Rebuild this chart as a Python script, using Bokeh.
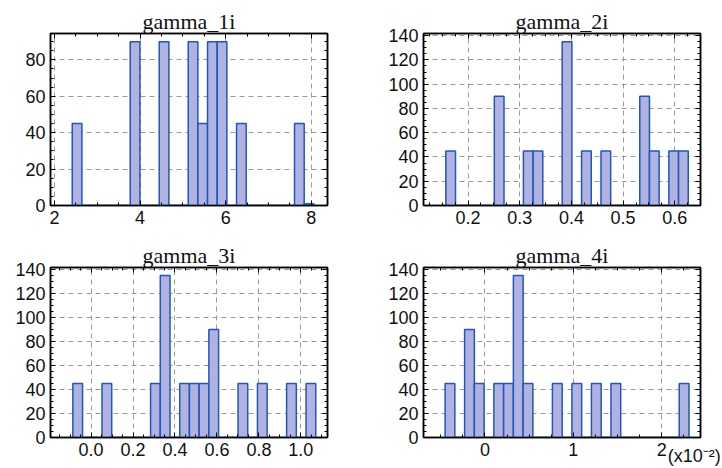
import numpy as np
from bokeh.plotting import figure
from bokeh.layouts import gridplot
from bokeh.models import (Range1d, LinearAxis, SingleIntervalTicker, FixedTicker,
                          PrintfTickFormatter, CustomJSTickFormatter)
from bokeh.embed import file_html
from bokeh.resources import INLINE

# ---- data (histograms, 25 bins each) ----
titles = ["gamma_1i", "gamma_2i", "gamma_3i", "gamma_4i"]

g1_range = (2.414, 8.061)
g1_counts = [45, 0, 0, 0, 0, 0, 90, 0, 0, 90, 0, 0, 90, 45, 90, 90, 0, 45, 0, 0, 0, 0, 0, 45, 1]

g2_range = (0.157, 0.626)
g2_counts = [45, 0, 0, 0, 0, 90, 0, 0, 45, 45, 0, 0, 135, 0, 45, 0, 45, 0, 0, 0, 90, 45, 0, 45, 45]

g3_range = (-0.087, 1.071)
g3_counts = [45, 0, 0, 45, 0, 0, 0, 0, 45, 135, 0, 45, 45, 45, 90, 0, 0, 45, 0, 45, 0, 0, 45, 0, 45]

g4_range = (-0.0045, 0.02307)
g4_counts = [45, 0, 90, 45, 0, 45, 45, 135, 45, 0, 0, 45, 0, 45, 0, 45, 0, 45, 0, 0, 0, 0, 0, 0, 45]
g4_scale = 1e-2
g4_note = "(x10\u207b\u00b2)"

# axis settings
x_ranges = [(1.906, 8.38), (0.1138, 0.6497), (-0.1935, 1.127), (-0.694, 2.437)]
x_intervals = [2, 0.1, 0.2, 1]
x_formats = [None, "%.1f", "%.1f", None]
y_max = [94.5, 141.75, 141.75, 141.75]

FILL = "#b0b3df"
LINE = "#1f56c3"
TICK_FONT = "Liberation Sans"
TITLE_FONT = "Liberation Serif"


def make_panel(title, rng, counts, scale, xr, xint, xfmt, ymax, col):
    lo, hi = rng
    edges = np.linspace(lo / scale, hi / scale, len(counts) + 1)
    left_b = 50 if col == 0 else 62
    right_b = 34 if col == 0 else 22
    p = figure(width=361, height=234, output_backend="svg", toolbar_location=None,
               x_range=Range1d(*xr), y_range=Range1d(0, ymax),
               min_border_left=left_b, min_border_right=right_b,
               min_border_top=33, min_border_bottom=30,
               x_axis_location=None, y_axis_location=None)
    p.title.text = title
    p.title.text_font = TITLE_FONT
    p.title.text_font_size = "22px"
    p.title.text_font_style = "normal"
    p.title.align = "center"
    p.title.standoff = 0
    p.title.text_color = "#111111"
    p.outline_line_color = "black"
    p.outline_line_width = 1.5
    p.background_fill_color = "white"
    p.border_fill_color = "white"

    xt = SingleIntervalTicker(interval=xint, num_minor_ticks=4)
    yt = SingleIntervalTicker(interval=20, num_minor_ticks=4)

    def style(ax, labels):
        ax.major_tick_in = 5
        ax.major_tick_out = 0
        ax.minor_tick_in = 3
        ax.minor_tick_out = 0
        ax.axis_line_color = "black"
        ax.axis_line_width = 1.5
        ax.major_tick_line_color = "black"
        ax.minor_tick_line_color = "black"
        if labels:
            ax.major_label_text_font = TICK_FONT
            ax.major_label_text_font_size = "18px"
            ax.major_label_text_color = "#111111"
            ax.major_label_standoff = 5
        else:
            ax.formatter = CustomJSTickFormatter(code="return ''")
            ax.major_label_standoff = 0

    xb = LinearAxis(ticker=xt); style(xb, True)
    if xfmt:
        xb.formatter = PrintfTickFormatter(format=xfmt)
    p.add_layout(xb, "below")
    xa = LinearAxis(ticker=xt); style(xa, False); p.add_layout(xa, "above")
    yl = LinearAxis(ticker=yt); style(yl, True); p.add_layout(yl, "left")
    yr = LinearAxis(ticker=yt); style(yr, False); p.add_layout(yr, "right")

    p.xgrid.ticker = xt
    p.ygrid.ticker = yt
    for g in (p.xgrid, p.ygrid):
        g.grid_line_color = "#9a9a9a"
        g.grid_line_dash = "5 4"
        g.grid_line_width = 1

    p.quad(left=edges[:-1], right=edges[1:], bottom=0, top=counts,
           fill_color=FILL, line_color=LINE, line_width=1.5)
    return p


p1 = make_panel(titles[0], g1_range, g1_counts, 1.0, x_ranges[0], x_intervals[0], x_formats[0], y_max[0], 0)
p2 = make_panel(titles[1], g2_range, g2_counts, 1.0, x_ranges[1], x_intervals[1], x_formats[1], y_max[1], 1)
p3 = make_panel(titles[2], g3_range, g3_counts, 1.0, x_ranges[2], x_intervals[2], x_formats[2], y_max[2], 0)
p4 = make_panel(titles[3], g4_range, g4_counts, g4_scale, x_ranges[3], x_intervals[3], x_formats[3], y_max[3], 1)
p1.min_border_bottom = 29
p2.min_border_bottom = 29

# exponent note "(x10^-2)" under panel 4's x axis: a second, tick-less axis
# whose single label is pulled up (negative standoff) beside the "2" label
note_axis = LinearAxis(ticker=FixedTicker(ticks=[2.406], minor_ticks=[]),
                       formatter=CustomJSTickFormatter(code="return '%s'" % g4_note))
note_axis.major_tick_in = 0
note_axis.major_tick_out = 0
note_axis.minor_tick_in = 0
note_axis.minor_tick_out = 0
note_axis.axis_line_color = None
note_axis.major_tick_line_color = None
note_axis.minor_tick_line_color = None
note_axis.major_label_text_font = TICK_FONT
note_axis.major_label_text_font_size = "18px"
note_axis.major_label_text_color = "#111111"
note_axis.major_label_standoff = -13
p4.add_layout(note_axis, "below")

grid = gridplot([[p1, p2], [p3, p4]], toolbar_location=None)

open("out.html", "w").write(file_html(grid, INLINE))
